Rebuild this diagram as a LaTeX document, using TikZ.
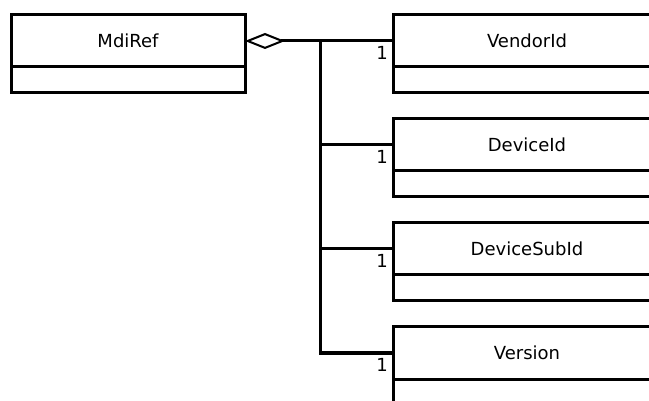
\documentclass[tikz,border=0pt]{standalone}
\usepackage{fontspec}
\setmainfont{DejaVu Sans}
\usetikzlibrary{arrows.meta,positioning}
\begin{document}
\begin{tikzpicture}[x=1pt,y=-1pt,
  every node/.style={font=\fontsize{18}{21}\selectfont, inner sep=0pt},
  cls/.style={draw, line width=3pt, outer sep=0pt, minimum height=52pt, anchor=north west},
  attr/.style={draw, line width=3pt, outer sep=0pt, minimum height=26pt, below=0pt of #1},
  conn/.style={line width=3pt},
  mult/.style={anchor=north east, xshift=-5pt, yshift=-5pt}]
\useasboundingbox (0,0) rectangle (649,401);
% left class
\node[cls, minimum width=234pt] (mdi) at (11,15) {MdiRef};
\node[attr=mdi, minimum width=234pt] (mdiA) {};
% right classes
\node[cls, minimum width=268pt] (vendor) at (393,15) {VendorId};
\node[attr=vendor, minimum width=268pt] (vendorA) {};
\node[cls, minimum width=268pt] (device) at (393,119) {DeviceId};
\node[attr=device, minimum width=268pt] (deviceA) {};
\node[cls, minimum width=268pt] (sub) at (393,223) {DeviceSubId};
\node[attr=sub, minimum width=268pt] (subA) {};
\node[cls, minimum width=268pt] (version) at (393,327) {Version};
\node[attr=version, minimum width=268pt] (versionA) {};
% connectors
\coordinate (j) at (320,41);
\draw[conn, {Diamond[open, length=40pt, width=16pt, line width=2pt]}-] (mdi.east) -- (vendor.west);
\draw[conn] (j) |- (version.west);
\draw[conn] (j |- device.west) -- (device.west);
\draw[conn] (j |- sub.west) -- (sub.west);
% multiplicities
\node[mult] (m1) at (vendor.west) {1};
\node[mult] (m2) at (device.west) {1};
\node[mult] (m3) at (sub.west) {1};
\node[mult] (m4) at (version.west) {1};
\end{tikzpicture}
\end{document}
